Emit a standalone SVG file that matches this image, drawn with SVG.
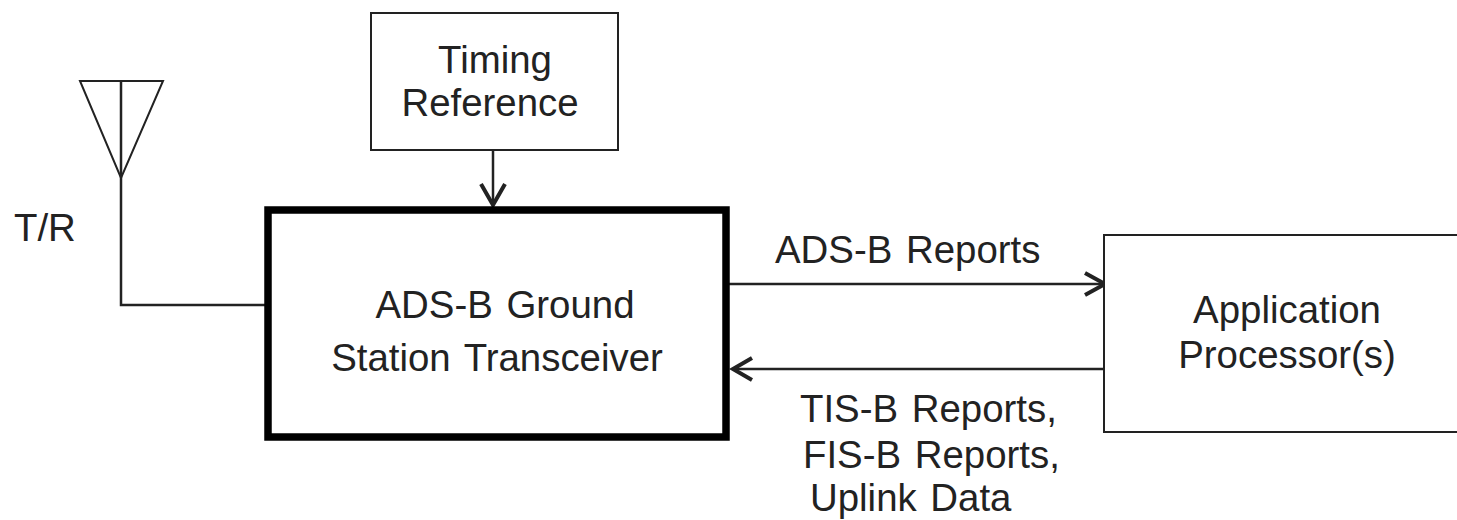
<svg xmlns="http://www.w3.org/2000/svg" width="1457" height="520" viewBox="0 0 1457 520">
<style>
text{font-family:"Liberation Sans",Arial,sans-serif;font-size:38.4px;fill:#222;word-spacing:3px}
.b{fill:#fff;stroke:#222;stroke-width:2}
.c{fill:none;stroke:#222;stroke-width:2.5}
.a{fill:none;stroke:#222;stroke-width:4}
</style>
<rect width="1457" height="520" fill="#fff"/>
<g id="connectors">
<path class="c" d="M121 80V305H267"/>
<path class="c" d="M493 151V205"/><path class="a" d="M481 184L493 205L505 184"/>
<path class="c" d="M729 284H1104"/><path class="a" d="M1085 273L1105 284L1085 295"/>
<path class="c" d="M1105 369H733"/><path class="a" d="M752 358L733 369L752 380"/>
</g>
<g id="antenna"><path class="b" style="fill:none" d="M80 81H163L121 178Z"/><text x="14" y="241">T/R</text></g>
<g id="timing"><rect class="b" x="371" y="13" width="247" height="137"/><text x="495" y="73" text-anchor="middle">Timing</text><text x="490" y="116" text-anchor="middle">Reference</text></g>
<g id="transceiver"><rect x="268" y="210" width="458" height="227" fill="#fff" stroke="#000" stroke-width="7.5"/><text x="505" y="318" text-anchor="middle">ADS-B Ground</text><text x="497" y="371" text-anchor="middle">Station Transceiver</text></g>
<g id="processor"><path class="b" d="M1457 235H1104V432H1457"/><text x="1287" y="323" text-anchor="middle">Application</text><text x="1287" y="368" text-anchor="middle">Processor(s)</text></g>
<g id="labels"><text x="775" y="263">ADS-B Reports</text><text x="800" y="422">TIS-B Reports,</text><text x="803" y="468">FIS-B Reports,</text><text x="810" y="511">Uplink Data</text></g>
</svg>
